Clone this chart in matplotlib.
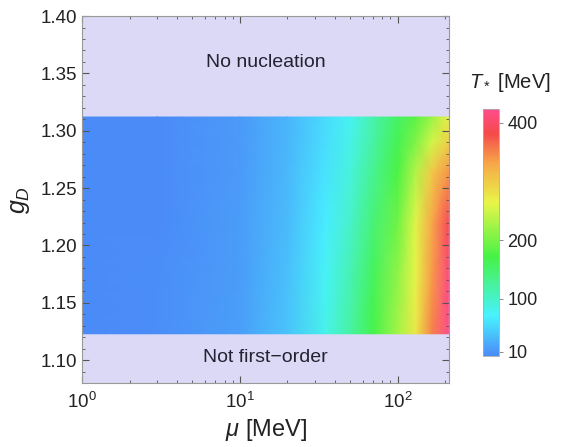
#!/usr/bin/env python3
"""Nucleation temperature T_* over the (mu, g_D) plane."""
import matplotlib
matplotlib.use("Agg")
import matplotlib.pyplot as plt
import matplotlib.ticker as mticker
from matplotlib.colors import LinearSegmentedColormap, Normalize
import numpy as np

plt.rcParams["font.family"] = ["Liberation Sans", "DejaVu Sans"]
plt.rcParams["mathtext.fontset"] = "custom"
plt.rcParams["mathtext.it"] = "Liberation Sans:italic"
plt.rcParams["mathtext.rm"] = "Liberation Sans"

# grid
mu = [1, 3, 10, 20, 35, 50, 70, 100, 130, 165, 210]          # MeV
g_d = [1.123, 1.17, 1.22, 1.265, 1.29, 1.312]
# T_* [MeV], one row per g_D value
t_123 = [2, 5, 17, 40, 82, 120, 168, 225, 275, 350, 427]
t_170 = [2, 5, 16, 38, 77, 112, 160, 215, 265, 338, 415]
t_220 = [2, 4, 15, 35, 68, 100, 145, 195, 258, 330, 390]
t_265 = [2, 4, 14, 33, 62, 90, 130, 175, 232, 300, 340]
t_290 = [2, 4, 14, 32, 58, 82, 120, 165, 205, 250, 295]
t_312 = [2, 4, 14, 31, 56, 78, 115, 155, 185, 220, 268]

cbar_ticks = [10, 100, 200, 400]

BG = "#dbd9f5"
cmap = LinearSegmentedColormap.from_list("rainbowish", [
    (0.00, "#4b8bf8"),
    (0.16, "#48f2ff"),
    (0.40, "#46f246"),
    (0.62, "#e8f548"),
    (0.78, "#f7a648"),
    (0.90, "#f54a4a"),
    (1.00, "#ff4d8c"),
])
norm = Normalize(vmin=3, vmax=424)

fig = plt.figure(figsize=(5.62, 4.47), dpi=100)
ax = fig.add_axes([0.146, 0.143, 0.653, 0.821])
ax.set_facecolor(BG)

T = np.array([t_123, t_170, t_220, t_265, t_290, t_312])
X, Y = np.meshgrid(mu, g_d)
ax.pcolormesh(X, Y, T, cmap=cmap, norm=norm, shading="gouraud")

ax.set_xscale("log")
ax.set_xlim(1, 212)
ax.set_ylim(1.08, 1.40)
ax.yaxis.set_major_locator(mticker.MultipleLocator(0.05))
ax.yaxis.set_minor_locator(mticker.MultipleLocator(0.01))
ax.yaxis.set_major_formatter(mticker.FormatStrFormatter("%.2f"))
ax.xaxis.set_major_locator(mticker.LogLocator(base=10))
ax.xaxis.set_minor_locator(mticker.LogLocator(base=10, subs=np.arange(2, 10)))
ax.xaxis.set_minor_formatter(mticker.NullFormatter())

ax.tick_params(which="both", direction="in", top=True, right=True,
               color="#555555", labelsize=13.5, labelcolor="#222222")
ax.tick_params(which="major", length=5, width=0.8)
ax.tick_params(which="minor", length=2.5, width=0.6)
ax.tick_params(axis="x", pad=6)
for s in ax.spines.values():
    s.set_color("#999999")
    s.set_linewidth(0.8)

ax.set_xlabel(r"$\mu$ [MeV]", fontsize=17, color="#222222", labelpad=4)
ax.set_ylabel(r"$g_D$", fontsize=18, color="#222222", labelpad=6)

ax.text(0.5, 0.874, "No nucleation", transform=ax.transAxes,
        ha="center", va="center", fontsize=14, color="#222233")
ax.text(0.5, 0.07, "Not first\u2212order", transform=ax.transAxes,
        ha="center", va="center", fontsize=14, color="#222233")

# colorbar
cax = fig.add_axes([0.859, 0.204, 0.029, 0.553])
cb = fig.colorbar(plt.cm.ScalarMappable(norm=norm, cmap=cmap), cax=cax)
cb.set_ticks(cbar_ticks)
cb.outline.set_edgecolor("#aaaaaa")
cb.outline.set_linewidth(0.6)
cax.tick_params(length=3, width=0.6, color="#777777", labelsize=13,
                labelcolor="#222222", pad=3)
fig.text(0.907, 0.815, r"$T_*$ [MeV]", ha="center", va="center",
         fontsize=14.5, color="#222222")

fig.savefig("out.png", dpi=100)
